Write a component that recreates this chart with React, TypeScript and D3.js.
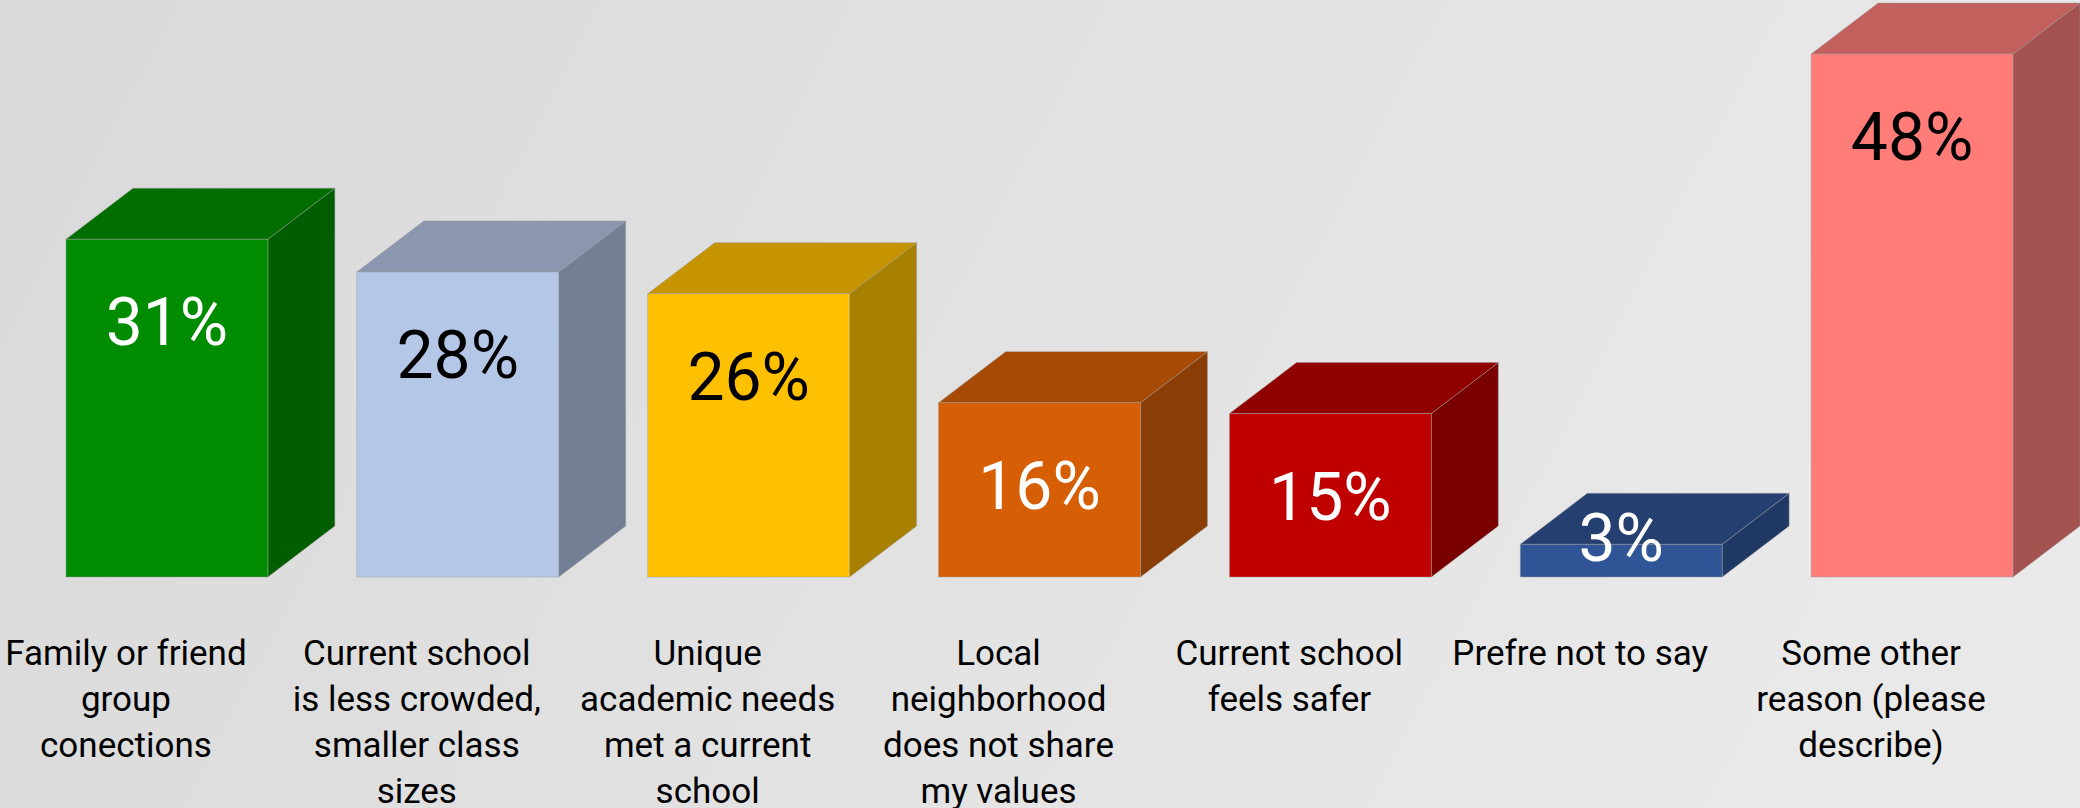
import * as d3 from "d3";

// survey answers, left to right
const categories = [
  "Family or friend\ngroup\nconections",
  "Current school\nis less crowded,\nsmaller class\nsizes",
  "Unique\nacademic needs\nmet a current\nschool",
  "Local\nneighborhood\ndoes not share\nmy values",
  "Current school\nfeels safer",
  "Prefre not to say",
  "Some other\nreason (please\ndescribe)",
];
const values = [31, 28, 26, 16, 15, 3, 48];
const frontColors = ["#008c00", "#b4c7e7", "#ffc000", "#d65f05", "#c00000", "#2f5597", "#ff7c79"];
const topColors = ["#006e00", "#8a97ae", "#c69400", "#a64a05", "#900000", "#243f70", "#c1605d"];
const sideColors = ["#005e00", "#737f94", "#a88000", "#8a3d04", "#7a0000", "#1f3864", "#a3524f"];
const labelColors = ["#fff", "#000", "#000", "#fff", "#fff", "#fff", "#000"];

const W = 2080;
const H = 808;
const depthX = 67;
const depthY = 51;

const App = () => {
  const x = d3.scaleBand<string>().domain(categories).range([66, 2013]).paddingInner(0.306).paddingOuter(0);
  const y = d3.scaleLinear().domain([0, 48]).range([577, 54]);
  const bw = x.bandwidth();
  const y0 = y(0);

  return (
    <svg
      width={W}
      height={H}
      style={{ position: "absolute", top: 0, left: 0, fontFamily: "Roboto, sans-serif" }}
    >
      <defs>
        <linearGradient id="bg" x1="0" y1="0" x2="1" y2="0.2">
          <stop offset="0" stopColor="#d9d9d9" />
          <stop offset="1" stopColor="#e9e9e9" />
        </linearGradient>
      </defs>
      <rect width={W} height={H} fill="url(#bg)" />

      {categories.map((c, i) => {
        const x0 = x(c)!;
        const x1 = x0 + bw;
        const yt = y(values[i]);
        const side = d3.line()([
          [x1, yt],
          [x1 + depthX, yt - depthY],
          [x1 + depthX, y0 - depthY],
          [x1, y0],
        ]) + "Z";
        const top = d3.line()([
          [x0, yt],
          [x0 + depthX, yt - depthY],
          [x1 + depthX, yt - depthY],
          [x1, yt],
        ]) + "Z";
        // value label sits ~100px under the front top, kept inside short bars
        const base = Math.min(yt + 106, y0 - 16);
        return (
          <g key={c}>
            <path d={side} fill={sideColors[i]} stroke="#9a9a9a" strokeWidth={0.8} strokeOpacity={0.6} />
            <path d={top} fill={topColors[i]} stroke="#9a9a9a" strokeWidth={0.8} strokeOpacity={0.6} />
            <rect x={x0} y={yt} width={bw} height={y0 - yt} fill={frontColors[i]} stroke="#9a9a9a" strokeWidth={0.8} strokeOpacity={0.6} />
            <text x={x0 + bw / 2} y={base} textAnchor="middle" fontSize={66} fill={labelColors[i]}>
              {values[i]}%
            </text>
            <text textAnchor="middle" fontSize={35} fill="#000">
              {c.split("\n").map((line, j) => (
                <tspan key={j} x={x0 + bw / 2 - 41} y={665 + j * 46}>
                  {line}
                </tspan>
              ))}
            </text>
          </g>
        );
      })}
    </svg>
  );
};

export default App;
